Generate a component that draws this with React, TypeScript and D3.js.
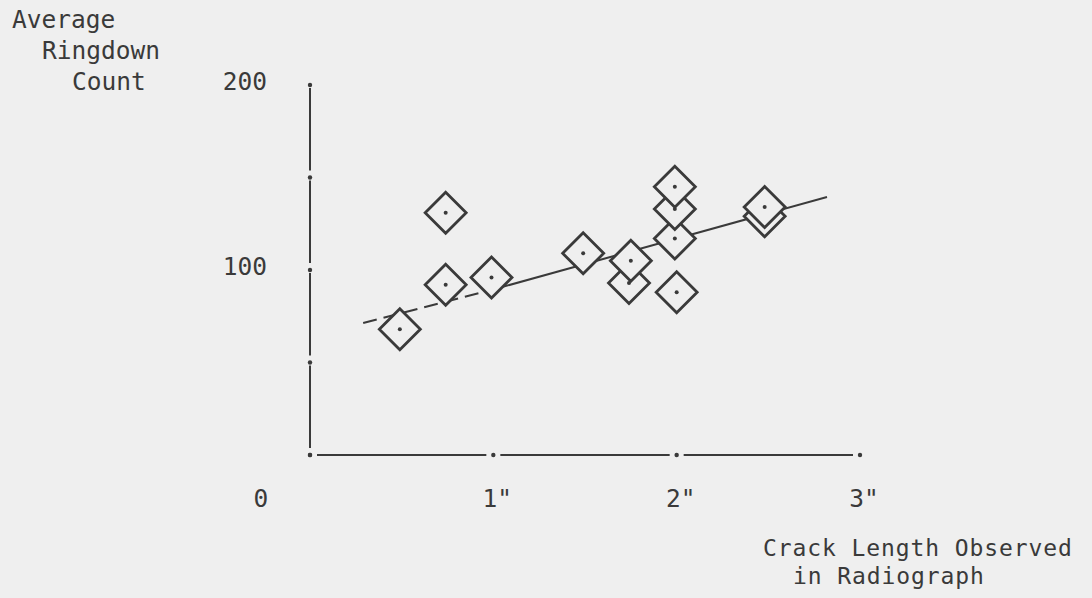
import React from "react";
import * as d3 from "d3";

const W = 1092;
const H = 598;

// Crack length (inches) and average ringdown count
const crackLength = [0.49, 0.74, 0.74, 0.99, 1.49, 1.75, 1.74, 1.99, 1.99, 1.99, 2.0, 2.48, 2.48];
const ringdown = [68, 131, 92, 96, 109, 105, 93, 145, 133, 117, 88, 134, 129];

// Fitted trend line points
const trendX = [0.29, 1.0, 2.82];
const trendY = [71.4, 89.5, 139.5];

const xTickValues = [0, 1, 2, 3];
const xTickLabels = ["0", "1\"", "2\"", "3\""];
const yTickValues = [0, 50, 100, 150, 200];
const yTickLabels = ["200", "100"];
const yTickLabelValues = [200, 100];

const yTitle = ["Average", "Ringdown", "Count"];
const xTitle = ["Crack Length Observed", "in Radiograph"];

const INK = "#3a3a3a";
const BG = "#efefef";
const FONT = "'DejaVu Sans Mono', monospace";

export default function App() {
  const x = d3.scaleLinear().domain([0, 3]).range([310, 860]);
  const y = d3.scaleLinear().domain([0, 200]).range([455, 85]);

  const pts = crackLength
    .map((c, i) => ({ c, r: ringdown[i] }))
    .sort((a, b) => a.r - b.r);

  const line = d3
    .line<number>()
    .x((d) => x(trendX[d]))
    .y((d) => y(trendY[d]));

  const half = 20.5;
  const diamond = (cx: number, cy: number) =>
    `M${cx},${cy - half}L${cx + half},${cy}L${cx},${cy + half}L${cx - half},${cy}Z`;

  // axis segments with small gaps at tick dots
  const gap = 7;
  const xSegs = d3.pairs(xTickValues).map(([a, b]) => [x(a) + gap, x(b) - gap]);
  const ySegs = d3.pairs(yTickValues).map(([a, b]) => [y(a) - gap, y(b) + 3]);

  const textStyle = {
    fontFamily: FONT,
    fontSize: 24.5,
    fill: INK,
  } as React.CSSProperties;

  const xTitleStyle = {
    fontFamily: FONT,
    fontSize: 23,
    letterSpacing: 0.9,
    fill: INK,
  } as React.CSSProperties;

  return (
    <svg
      width={W}
      height={H}
      style={{ position: "absolute", left: 0, top: 0, background: BG }}
    >
      <rect x={0} y={0} width={W} height={H} fill={BG} />

      {/* y axis */}
      {ySegs.map(([a, b], i) => (
        <line key={"ys" + i} x1={x(0)} x2={x(0)} y1={a} y2={b} stroke={INK} strokeWidth={2} />
      ))}
      {yTickValues.map((v) => (
        <circle key={"yt" + v} cx={x(0)} cy={y(v)} r={2.2} fill={INK} />
      ))}

      {/* x axis */}
      {xSegs.map(([a, b], i) => (
        <line key={"xs" + i} x1={a} x2={b} y1={y(0)} y2={y(0)} stroke={INK} strokeWidth={2} />
      ))}
      {xTickValues.map((v) => (
        <circle key={"xt" + v} cx={x(v)} cy={y(0)} r={2.2} fill={INK} />
      ))}

      {/* trend line: dashed part then solid */}
      <path d={line([0, 1]) || ""} stroke={INK} strokeWidth={2} fill="none" strokeDasharray="14,7" />
      <path d={line([1, 2]) || ""} stroke={INK} strokeWidth={2} fill="none" />

      {/* data diamonds */}
      {pts.map((p, i) => (
        <g key={"p" + i}>
          <path d={diamond(x(p.c), y(p.r))} fill={BG} stroke={INK} strokeWidth={2.8} strokeLinejoin="miter" />
          <circle cx={x(p.c)} cy={y(p.r)} r={2} fill={INK} />
        </g>
      ))}

      {/* y tick labels */}
      {yTickLabels.map((t, i) => (
        <text key={"yl" + i} x={267} y={y(yTickLabelValues[i]) + 5} textAnchor="end" style={textStyle}>
          {t}
        </text>
      ))}

      {/* x tick labels */}
      {xTickLabels.map((t, i) => (
        <text
          key={"xl" + i}
          x={i === 0 ? 261 : x(xTickValues[i]) + 4}
          y={507}
          textAnchor="middle"
          style={textStyle}
        >
          {t}
        </text>
      ))}

      {/* y title */}
      <text x={12} y={28} style={textStyle}>{yTitle[0]}</text>
      <text x={42} y={59} style={textStyle}>{yTitle[1]}</text>
      <text x={72} y={90} style={textStyle}>{yTitle[2]}</text>

      {/* x title */}
      <text x={763} y={556} style={xTitleStyle}>{xTitle[0]}</text>
      <text x={793} y={584} style={xTitleStyle}>{xTitle[1]}</text>
    </svg>
  );
}
